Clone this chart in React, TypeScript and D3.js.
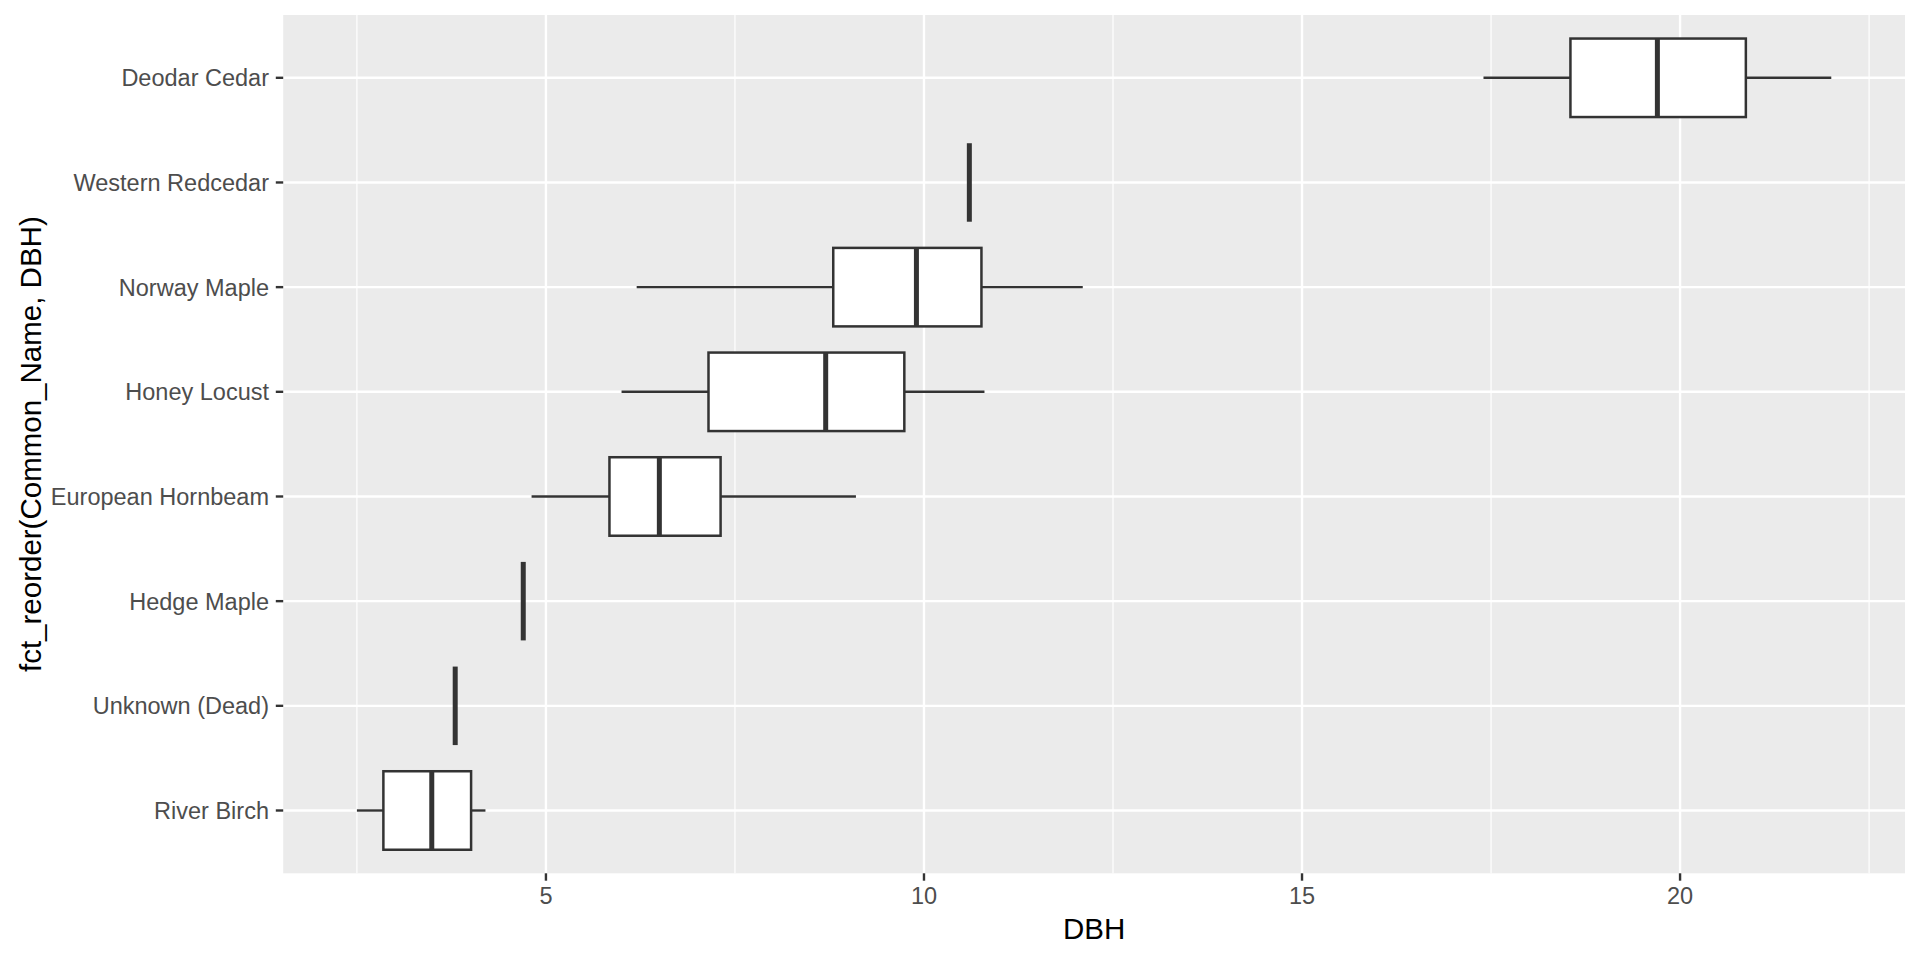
import React from "react";
import * as d3 from "d3";

// Categories from top to bottom (as drawn)
const categories = [
  "Deodar Cedar",
  "Western Redcedar",
  "Norway Maple",
  "Honey Locust",
  "European Hornbeam",
  "Hedge Maple",
  "Unknown (Dead)",
  "River Birch",
];
const whiskerLow = [17.4, 10.6, 6.2, 6.0, 4.81, 4.7, 3.8, 2.5];
const q1 = [18.55, 10.6, 8.8, 7.15, 5.84, 4.7, 3.8, 2.85];
const medians = [19.7, 10.6, 9.9, 8.7, 6.5, 4.7, 3.8, 3.49];
const q3 = [20.87, 10.6, 10.76, 9.74, 7.31, 4.7, 3.8, 4.01];
const whiskerHigh = [22.0, 10.6, 12.1, 10.8, 9.1, 4.7, 3.8, 4.2];

const xMajorTicks = [5, 10, 15, 20];
const xMinorTicks = [2.5, 7.5, 12.5, 17.5, 22.5];

const xTitle = "DBH";
const yTitle = "fct_reorder(Common_Name, DBH)";

export default function App() {
  const W = 1920;
  const H = 960;
  const panel = { left: 283.2, right: 1905, top: 15, bottom: 873.3 };

  const lo = d3.min(whiskerLow) as number;
  const hi = d3.max(whiskerHigh) as number;
  const pad = (hi - lo) * 0.05;
  const x = d3
    .scaleLinear()
    .domain([lo - pad, hi + pad])
    .range([panel.left, panel.right]);

  // bottom-to-top ordering for ggplot discrete axis
  const y = d3
    .scalePoint<string>()
    .domain([...categories].reverse())
    .range([panel.bottom, panel.top])
    .padding(0.6);
  const step = y.step();
  const boxH = step * 0.75;

  const axisTextSize = 23.5;
  const titleSize = 29.5;
  const tickColor = "#333333";
  const textColor = "#4D4D4D";

  return (
    <svg
      width={W}
      height={H}
      style={{ position: "absolute", left: 0, top: 0, display: "block", background: "#FFFFFF" }}
      fontFamily="'Liberation Sans', Arial, sans-serif"
    >
      <rect x={0} y={0} width={W} height={H} fill="#FFFFFF" />
      <rect
        x={panel.left}
        y={panel.top}
        width={panel.right - panel.left}
        height={panel.bottom - panel.top}
        fill="#EBEBEB"
      />
      {xMinorTicks.map((t) => (
        <line
          key={"mn" + t}
          x1={x(t)}
          x2={x(t)}
          y1={panel.top}
          y2={panel.bottom}
          stroke="#FFFFFF"
          strokeWidth={1.2}
        />
      ))}
      {xMajorTicks.map((t) => (
        <line
          key={"mj" + t}
          x1={x(t)}
          x2={x(t)}
          y1={panel.top}
          y2={panel.bottom}
          stroke="#FFFFFF"
          strokeWidth={2.4}
        />
      ))}
      {categories.map((c) => (
        <line
          key={"hg" + c}
          x1={panel.left}
          x2={panel.right}
          y1={y(c)}
          y2={y(c)}
          stroke="#FFFFFF"
          strokeWidth={2.4}
        />
      ))}

      {categories.map((c, i) => {
        const cy = y(c) as number;
        return (
          <g key={"box" + c}>
            <line
              x1={x(whiskerLow[i])}
              x2={x(q1[i])}
              y1={cy}
              y2={cy}
              stroke={tickColor}
              strokeWidth={2.4}
            />
            <line
              x1={x(q3[i])}
              x2={x(whiskerHigh[i])}
              y1={cy}
              y2={cy}
              stroke={tickColor}
              strokeWidth={2.4}
            />
            <rect
              x={x(q1[i])}
              y={cy - boxH / 2}
              width={x(q3[i]) - x(q1[i])}
              height={boxH}
              fill="#FFFFFF"
              stroke={tickColor}
              strokeWidth={2.5}
            />
            <line
              x1={x(medians[i])}
              x2={x(medians[i])}
              y1={cy - boxH / 2}
              y2={cy + boxH / 2}
              stroke={tickColor}
              strokeWidth={5}
            />
          </g>
        );
      })}

      {/* x axis ticks and labels */}
      {xMajorTicks.map((t) => (
        <g key={"xt" + t}>
          <line
            x1={x(t)}
            x2={x(t)}
            y1={panel.bottom}
            y2={panel.bottom + 7.4}
            stroke={tickColor}
            strokeWidth={2.4}
          />
          <text
            x={x(t)}
            y={903.5}
            textAnchor="middle"
            fontSize={axisTextSize}
            fill={textColor}
          >
            {t}
          </text>
        </g>
      ))}

      {/* y axis ticks and labels */}
      {categories.map((c) => (
        <g key={"yt" + c}>
          <line
            x1={panel.left - 7.4}
            x2={panel.left}
            y1={y(c)}
            y2={y(c)}
            stroke={tickColor}
            strokeWidth={2.4}
          />
          <text
            x={269}
            y={(y(c) as number) + 8.4}
            textAnchor="end"
            fontSize={axisTextSize}
            fill={textColor}
          >
            {c}
          </text>
        </g>
      ))}

      <text
        x={(panel.left + panel.right) / 2}
        y={938.7}
        textAnchor="middle"
        fontSize={titleSize}
        fill="#000000"
      >
        {xTitle}
      </text>
      <text
        transform={`translate(40.7, ${(panel.top + panel.bottom) / 2}) rotate(-90)`}
        textAnchor="middle"
        fontSize={titleSize}
        fill="#000000"
      >
        {yTitle}
      </text>
    </svg>
  );
}
